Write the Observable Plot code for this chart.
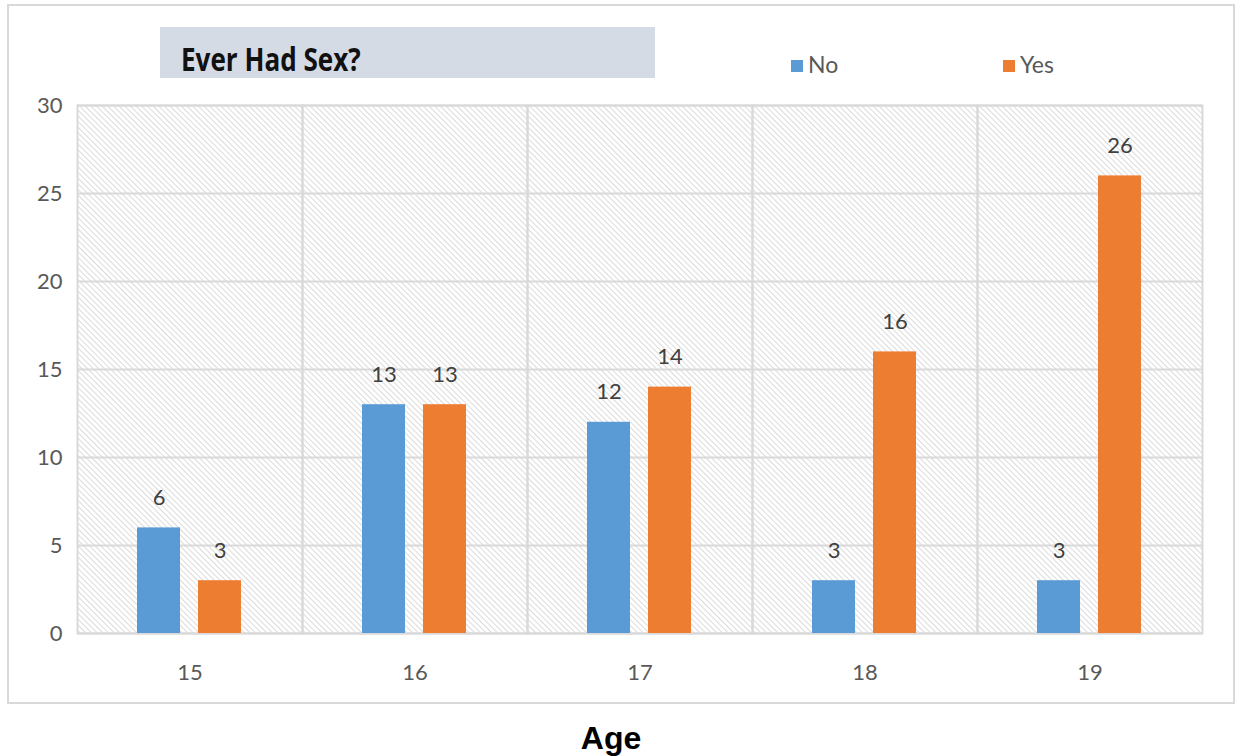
<!DOCTYPE html>
<html>
<head>
<meta charset="utf-8">
<script src="https://cdn.jsdelivr.net/npm/d3@7"></script>
<script src="https://cdn.jsdelivr.net/npm/@observablehq/plot@0.6"></script>
<style>
  body { margin: 0; background: #fff; }
  #wrap { position: relative; width: 1244px; height: 756px; overflow: hidden; font-family: Lato, "Open Sans", sans-serif; }
  #border { position: absolute; left: 7px; top: 4px; width: 1224px; height: 696px; border: 2px solid #d9d9d9; box-sizing: content-box; }
  #chart { position: absolute; left: 0; top: 0; }
  #titlebox { position: absolute; left: 160px; top: 27px; width: 495px; height: 51px; background: #d5dbe5; }
  #titlebox span { position: absolute; left: 21px; top: 15px; line-height: 33px; white-space: nowrap; font-family: "Open Sans", sans-serif; font-weight: bold; font-size: 33px; color: #111; transform: scaleX(0.79); transform-origin: 0 0; }
  .leg { position: absolute; top: 50px; font-size: 23px; color: #595959; }
  .leg i { display: inline-block; width: 12px; height: 12px; margin-right: 5px; vertical-align: 1px; }
  #xtitle { position: absolute; left: 0; width: 1222px; top: 720px; text-align: center; font-family: "Liberation Sans", Arial, sans-serif; font-weight: bold; font-size: 32px; color: #000; }
</style>
</head>
<body>
<div id="wrap">
  <div id="border"></div>
  <div id="chart"></div>
  <div id="titlebox"><span>Ever Had Sex?</span></div>
  <div class="leg" style="left:791px"><i style="background:#5b9bd5"></i>No</div>
  <div class="leg" style="left:1003px"><i style="background:#ed7d31"></i>Yes</div>
  <div id="xtitle">Age</div>
</div>
<script>
const ages = ["15", "16", "17", "18", "19"];
const seriesNames = ["No", "Yes"];
const noValues = [6, 13, 12, 3, 3];
const yesValues = [3, 13, 14, 16, 26];
const seriesColors = ["#5b9bd5", "#ed7d31"];
const yTicks = [0, 5, 10, 15, 20, 25, 30];

const data = [];
ages.forEach((a, i) => {
  data.push({age: a, series: "No", value: noValues[i]});
  data.push({age: a, series: "Yes", value: yesValues[i]});
});

const plot = Plot.plot({
  width: 1244,
  height: 700,
  marginLeft: 76,
  marginRight: 42,
  marginTop: 105,
  marginBottom: 67,
  style: {fontFamily: "Lato, 'Open Sans', sans-serif", background: "transparent"},
  fx: {domain: ages, padding: 0, label: null},
  x: {domain: seriesNames, paddingInner: 0.29, paddingOuter: 0.96, axis: null},
  y: {domain: [0, 30], label: null},
  color: {domain: seriesNames, range: seriesColors},
  marks: [
    Plot.frame({fill: "url(#hatch)", stroke: null}),
    Plot.gridY(yTicks, {stroke: "#d9d9d9", strokeOpacity: 1, strokeWidth: 2}),
    Plot.frame({stroke: "#d9d9d9", strokeWidth: 2}),
    Plot.axisY(yTicks, {tickSize: 0, tickPadding: 15, fontSize: 22, fill: "#595959", label: null}),
    Plot.axisFx({anchor: "bottom", tickSize: 0, tickPadding: 31, fontSize: 22, fill: "#595959", label: null}),
    Plot.barY(data, {fx: "age", x: "series", y: "value", fill: "series"}),
    Plot.text(data, {fx: "age", x: "series", y: "value", text: d => String(d.value), dy: -30, fontSize: 22, fill: "#404040"})
  ]
});

const ns = "http://www.w3.org/2000/svg";
const defs = document.createElementNS(ns, "defs");
defs.innerHTML = `<pattern id="hatch" patternUnits="userSpaceOnUse" width="4" height="4" patternTransform="rotate(-45)">
  <rect width="4" height="4" fill="#ffffff"/>
  <line x1="0" y1="0" x2="0" y2="4" stroke="#c8c8c8" stroke-width="1.3"/>
</pattern>`;
plot.insertBefore(defs, plot.firstChild);
document.getElementById("chart").appendChild(plot);
</script>
</body>
</html>
